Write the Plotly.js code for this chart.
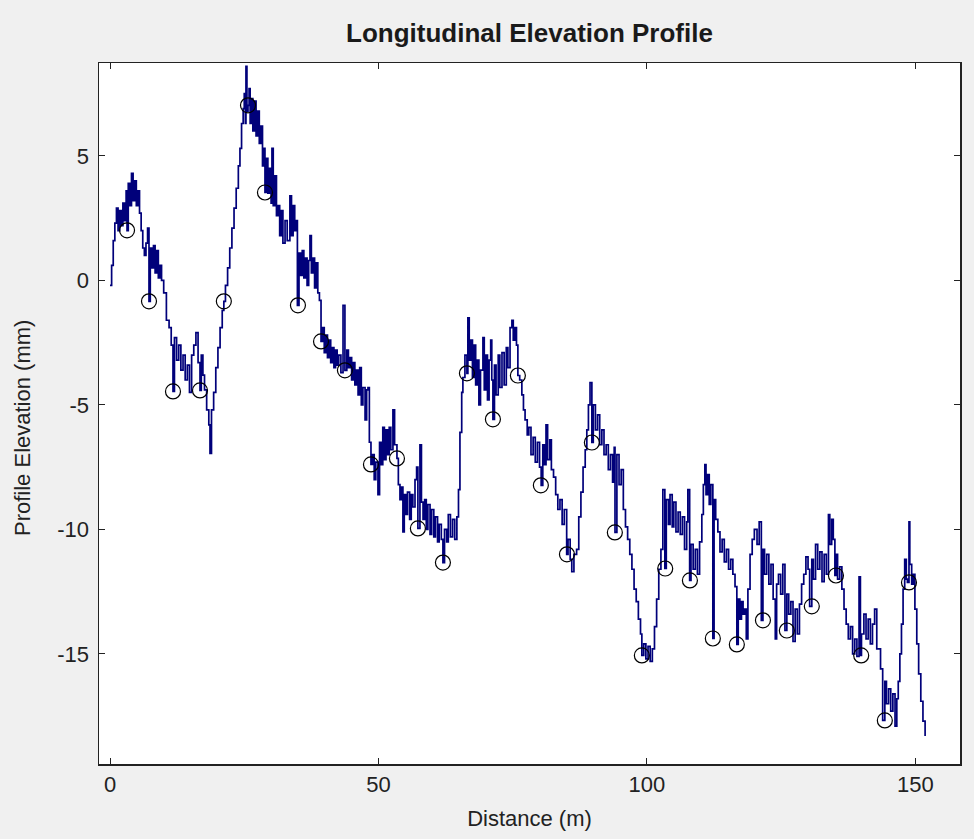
<!DOCTYPE html>
<html>
<head>
<meta charset="utf-8">
<script src="https://cdn.plot.ly/plotly-3.0.1.min.js"></script>
<style>html,body{margin:0;padding:0;background:#f0f0f0;}#chart{width:974px;height:839px;}</style>
</head>
<body>
<div id="chart"></div>
<script>
// Profile distance (m) and elevation (mm) (envelope of the noisy band)
const profileDist = [
0.0,0.3,0.6,0.9,1.2,1.5,1.8,2.1,2.4,2.7,3.0,3.17,3.4,3.7,4.0,4.3,4.6,4.9,5.2,5.5,5.8,6.1,6.4,6.7,7.0,7.26,7.5,7.8,8.1,8.4,8.7,9.0,9.3,9.6,10.0,10.5,11.0,11.4,11.73,12.0,12.4,12.8,13.2,13.6,14.0,14.4,14.8,15.2,15.6,16.0,16.4,16.76,17.0,17.3,17.6,18.0,18.4,18.62,18.9,19.3,19.7,20.1,20.5,20.9,21.2,21.5,21.9,22.3,22.7,23.1,23.5,23.9,24.2,24.5,24.8,25.0,25.2,25.32,25.5,25.7,25.9,26.1,26.3,26.6,26.9,27.2,27.5,27.8,28.1,28.4,28.6,28.86,29.1,29.4,29.7,30.0,30.16,30.4,30.7,31.0,31.3,31.6,31.9,32.2,32.6,33.0,33.5,33.8,34.1,34.4,34.6,34.9,35.2,35.5,35.8,36.1,36.4,36.7,37.0,37.24,37.5,37.8,38.1,38.4,38.7,39.0,39.3,39.6,39.9,40.2,40.5,40.8,41.1,41.4,41.7,42.0,42.3,42.6,43.0,43.4,43.75,44.1,44.4,44.7,45.0,45.3,45.6,45.9,46.2,46.5,46.8,47.1,47.5,47.8,48.04,48.3,48.6,48.9,49.2,49.5,49.9,50.2,50.5,50.8,51.1,51.4,51.7,52.0,52.3,52.69,53.0,53.44,53.7,54.0,54.3,54.55,54.8,55.1,55.4,55.8,56.1,56.4,56.8,57.1,57.34,57.72,58.0,58.3,58.6,58.9,59.2,59.6,59.9,60.3,60.6,61.0,61.3,61.7,62.0,62.3,62.7,63.0,63.4,63.8,64.2,64.6,64.9,65.17,65.5,65.72,66.1,66.47,66.65,66.9,67.2,67.5,67.8,68.1,68.4,68.7,69.0,69.45,69.7,70.0,70.3,70.6,70.9,71.1,71.31,71.6,71.9,72.3,72.6,73.0,73.4,73.8,74.1,74.5,74.85,75.1,75.4,75.7,75.96,76.3,76.7,77.0,77.3,77.7,78.0,78.4,78.8,79.2,79.6,80.0,80.3,80.6,80.9,81.2,81.5,81.9,82.2,82.6,83.0,83.4,83.8,84.2,84.6,85.05,85.3,85.7,86.0,86.4,86.9,87.3,87.7,88.1,88.5,88.8,89.1,89.4,89.74,90.0,90.4,90.8,91.2,91.6,92.0,92.4,92.8,93.2,93.6,93.9,94.05,94.4,94.8,95.2,95.6,96.0,96.4,96.8,97.2,97.6,98.0,98.4,98.8,99.05,99.4,99.8,100.2,100.6,101.0,101.4,101.8,102.2,102.6,102.96,103.33,103.6,104.0,104.3,104.7,105.0,105.4,105.8,106.2,106.6,107.0,107.4,107.62,107.95,108.2,108.6,109.0,109.4,109.8,110.22,110.5,110.78,111.0,111.3,111.6,111.9,112.27,112.5,112.8,113.2,113.6,114.0,114.4,114.8,115.2,115.6,116.0,116.4,116.74,117.0,117.3,117.6,117.9,118.2,118.5,118.8,119.2,119.6,120.0,120.5,120.9,121.3,121.6,121.9,122.3,122.7,123.1,123.5,123.9,124.15,124.5,124.9,125.3,125.7,126.05,126.4,126.8,127.2,127.6,128.0,128.4,128.8,129.2,129.6,130.0,130.3,130.7,131.0,131.4,131.8,132.2,132.6,133.0,133.4,133.8,134.05,134.4,134.7,135.0,135.25,135.5,135.9,136.3,136.7,137.1,137.5,137.9,138.3,138.7,139.1,139.5,139.75,139.95,140.4,140.8,141.2,141.6,142.0,142.4,142.8,143.1,143.5,143.9,144.3,144.6,145.0,145.4,145.8,146.2,146.53,146.8,147.1,147.4,147.7,148.0,148.3,148.5,148.8,148.95,149.3,149.6,149.9,150.25,150.6,151.0,151.4,151.8,152.3
];
const profileElev = [
-0.2,0.6,1.6,2.3,2.9,2.0,2.8,2.2,3.1,2.4,3.6,2.0,3.9,3.0,4.3,3.2,4.0,3.0,3.6,2.7,2.0,1.3,1.0,1.5,2.1,-0.84,1.3,0.5,1.4,0.3,1.2,0.1,0.6,0.0,-0.5,-1.6,-1.9,-2.6,-4.46,-2.3,-3.2,-2.6,-3.6,-3.0,-4.0,-3.4,-4.5,-3.0,-2.6,-2.1,-3.3,-4.42,-3.0,-3.8,-4.4,-5.2,-5.8,-6.95,-5.2,-4.5,-3.5,-2.7,-1.9,-1.2,-0.84,-0.2,0.5,1.3,2.1,2.9,3.7,4.6,5.3,6.3,6.9,7.5,6.3,8.6,6.8,7.03,7.7,6.3,7.3,6.0,7.2,5.8,6.8,5.5,6.2,4.6,5.3,3.53,4.9,3.5,4.5,3.1,5.3,3.0,4.2,2.6,3.0,1.8,2.8,1.5,2.4,1.6,3.4,1.8,3.0,2.0,2.4,-1.0,1.1,0.2,1.2,0.1,0.9,-0.2,0.8,1.8,0.3,0.9,-0.3,0.7,-0.5,-0.8,-2.45,-1.9,-2.9,-2.2,-3.1,-2.4,-3.3,-2.7,-3.5,-2.8,-3.4,-3.0,-3.7,-1.0,-3.61,-2.8,-3.5,-3.1,-4.0,-3.3,-4.2,-3.6,-4.6,-3.5,-5.0,-4.3,-5.6,-4.4,-4.3,-6.5,-7.39,-7.0,-8.0,-7.3,-8.6,-6.5,-7.4,-5.9,-7.2,-6.0,-7.0,-5.9,-6.8,-5.2,-6.6,-7.15,-8.2,-8.8,-8.3,-10.1,-8.6,-9.4,-8.5,-9.6,-8.6,-9.1,-8.0,-7.5,-9.96,-6.6,-8.9,-9.6,-8.8,-10.0,-9.0,-10.2,-9.2,-10.3,-9.5,-10.5,-9.8,-10.4,-11.33,-10.0,-10.5,-9.4,-10.3,-9.6,-10.4,-9.5,-8.4,-6.1,-4.5,-3.9,-3.0,-3.73,-1.5,-3.2,-2.4,-3.9,-2.6,-4.2,-3.2,-5.0,-3.6,-2.3,-4.4,-3.0,-4.8,-3.2,-2.4,-4.0,-5.58,-3.4,-4.6,-3.0,-4.3,-2.9,-4.2,-2.7,-3.5,-1.9,-1.6,-2.4,-1.9,-2.6,-3.82,-4.0,-4.6,-5.2,-5.6,-6.2,-5.9,-7.0,-6.3,-7.3,-6.5,-7.5,-8.23,-6.6,-7.4,-5.8,-7.2,-6.4,-7.6,-7.9,-8.6,-9.2,-8.8,-9.8,-9.2,-11.0,-10.4,-11.2,-11.7,-11.0,-10.8,-9.5,-8.5,-7.5,-6.8,-6.0,-5.0,-4.1,-6.51,-5.0,-6.0,-5.4,-6.6,-6.0,-7.0,-6.6,-7.6,-7.0,-8.1,-6.7,-10.12,-7.0,-8.2,-7.6,-9.2,-9.9,-10.4,-11.0,-11.6,-12.4,-12.9,-13.6,-14.2,-15.06,-14.6,-15.2,-14.7,-15.3,-14.8,-13.9,-12.8,-11.6,-10.8,-8.4,-11.57,-8.8,-9.8,-8.6,-9.9,-8.9,-10.1,-9.3,-10.2,-9.5,-10.8,-9.7,-8.4,-12.05,-10.6,-11.6,-10.8,-11.8,-10.5,-9.4,-8.2,-7.4,-8.6,-7.8,-9.0,-8.2,-14.38,-8.8,-9.6,-10.1,-10.9,-10.4,-11.3,-10.8,-11.6,-11.2,-11.8,-12.3,-14.62,-12.8,-13.6,-12.9,-13.4,-13.2,-14.4,-12.4,-11.0,-10.4,-10.0,-10.6,-9.7,-13.65,-10.8,-11.8,-11.0,-12.2,-11.4,-12.8,-14.4,-12.2,-11.8,-12.6,-11.4,-14.06,-12.6,-13.4,-12.9,-14.5,-13.2,-14.2,-13.0,-12.2,-11.8,-11.1,-11.6,-13.09,-11.2,-12.0,-10.6,-11.6,-10.9,-12.1,-11.0,-11.8,-9.4,-10.6,-9.6,-10.4,-11.85,-11.0,-12.0,-11.5,-12.4,-13.2,-13.8,-14.4,-13.9,-15.0,-14.4,-15.1,-11.9,-15.06,-14.2,-13.4,-14.4,-13.6,-14.6,-13.8,-13.2,-14.8,-14.8,-15.6,-17.67,-16.1,-17.0,-16.4,-17.3,-16.6,-17.9,-16.8,-16.1,-15.0,-13.8,-12.4,-11.2,-12.0,-12.13,-9.7,-11.4,-12.2,-11.8,-13.2,-14.6,-15.8,-16.9,-17.7,-18.3
];
// Circle markers (sampled points)
const markerDist = [3.17,7.26,11.73,16.76,21.2,25.7,28.86,35.0,39.3,43.75,48.6,53.44,57.34,62.0,66.47,71.31,75.96,80.24,85.1,89.74,94.02,99.05,103.4,108.0,112.27,116.74,121.6,126.05,130.7,135.2,139.9,144.3,148.8];
const markerElev = [2.01,-0.84,-4.46,-4.42,-0.84,7.03,3.53,-1.0,-2.45,-3.61,-7.39,-7.15,-9.96,-11.33,-3.73,-5.58,-3.82,-8.23,-11.0,-6.51,-10.12,-15.06,-11.57,-12.05,-14.38,-14.62,-13.65,-14.06,-13.09,-11.85,-15.06,-17.67,-12.13];
const xTicks = [0,50,100,150];
const yTicks = [-15,-10,-5,0,5];

const fontFam = 'Arial, "Liberation Sans", Helvetica, sans-serif';
const traces = [
  {x: profileDist, y: profileElev, type:'scatter', mode:'lines', line:{color:'#00007a', width:1.7, shape:'hv'}, hoverinfo:'skip'},
  {x: markerDist, y: markerElev, type:'scatter', mode:'markers', marker:{symbol:'circle-open', size:15, color:'#000000', line:{width:1.2}}}
];
const layout = {
  width:974, height:839,
  paper_bgcolor:'#f0f0f0', plot_bgcolor:'#ffffff',
  showlegend:false,
  margin:{l:99, r:14, t:63, b:75, pad:0},
  title:{text:'<b>Longitudinal Elevation Profile</b>', font:{family:fontFam, size:26, color:'#1a1a1a'}, x:0.5, xref:'paper', y:1-33/839, yref:'container', yanchor:'middle'},
  xaxis:{range:[-2.05,158.3], tickvals:xTicks, ticktext:xTicks.map(String), ticks:'inside', ticklen:6, tickcolor:'#222', showline:true, linecolor:'#222', linewidth:1.5, mirror:'ticks', showgrid:false, zeroline:false,
    tickfont:{family:fontFam, size:22, color:'#222'},
    title:{text:'Distance (m)', font:{family:fontFam, size:22, color:'#222'}, standoff:14}},
  yaxis:{range:[-19.42,8.73], tickvals:yTicks, ticktext:yTicks.map(String), ticks:'inside', ticklen:6, tickcolor:'#222', showline:true, linecolor:'#222', linewidth:1.5, mirror:'ticks', showgrid:false, zeroline:false,
    tickfont:{family:fontFam, size:22, color:'#222'}, ticklabelstandoff:4},
  annotations:[{text:'Profile Elevation (mm)', xref:'paper', yref:'paper', x:-99/861+22/861, y:(764-428)/701, xanchor:'center', yanchor:'middle', textangle:-90, showarrow:false, font:{family:fontFam, size:22, color:'#222'}}]
};
Plotly.newPlot('chart', traces, layout, {displayModeBar:false, staticPlot:true});
</script>
</body>
</html>
